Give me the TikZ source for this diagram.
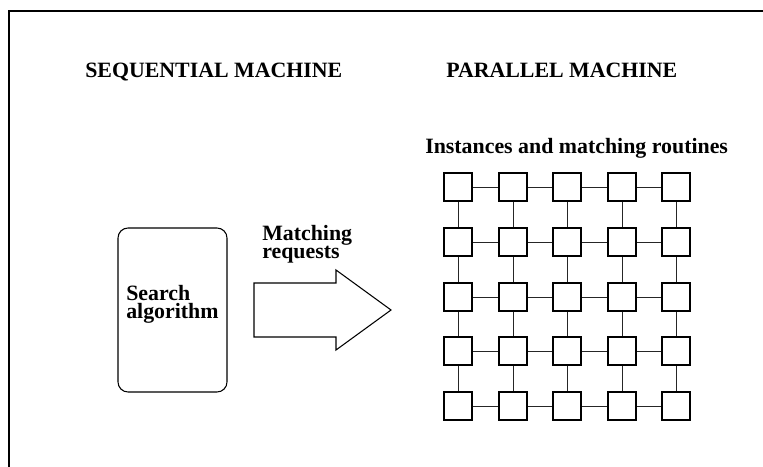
\documentclass[tikz,border=0pt]{standalone}
\usepackage{fontspec}
\setmainfont{Liberation Serif}
\begin{document}
\begin{tikzpicture}[x=0.75pt,y=-0.75pt,
  lbl/.style={inner sep=0pt,font=\fontsize{16.4}{13}\selectfont\bfseries,anchor=base west},
  cell/.style={draw,line width=0.9pt,minimum size=21pt,inner sep=0pt,fill=white},
  link/.style={line width=0.6pt,draw=black!85}]
\useasboundingbox (0,0) rectangle (763,467);
% frame
\draw[line width=0.8pt] (9,467) -- (9,11) -- (763,11);
% headers
\node[lbl] (seq) at (85,77.5) {SEQUENTIAL MACHINE};
\node[lbl] (par) at (446,78) {PARALLEL MACHINE};
\node[lbl] (inst) at (425,153) {Instances and matching routines};
% search box
\draw[line width=0.8pt,rounded corners=7.5pt] (118,228) rectangle (227,392);
\node[lbl,align=left] (search) at (126,318.3) {Search\\algorithm};
% arrow
\draw[line width=0.8pt] (254,283) -- (336,283) -- (336,270) -- (391,310) -- (336,350) -- (336,337) -- (254,337) -- cycle;
\node[lbl,align=left] (req) at (262,258) {Matching\\requests};
% grid
\foreach \c [count=\j] in {458,513,567,622,676}{
  \foreach \r [count=\i] in {187,242,297,351,406}{
    \coordinate (p\i\j) at (\c,\r);
  }
}
\foreach \i in {1,...,5}{
  \foreach \j in {1,...,4}{
    \pgfmathtruncatemacro{\k}{\j+1}
    \draw[link] (p\i\j) -- (p\i\k);
  }
}
\foreach \i in {1,...,4}{
  \foreach \j in {1,...,5}{
    \pgfmathtruncatemacro{\k}{\i+1}
    \draw[link] (p\i\j) -- (p\k\j);
  }
}
\foreach \i in {1,...,5}{
  \foreach \j in {1,...,5}{
    \node[cell] (g\i\j) at (p\i\j) {};
  }
}
\end{tikzpicture}
\end{document}
